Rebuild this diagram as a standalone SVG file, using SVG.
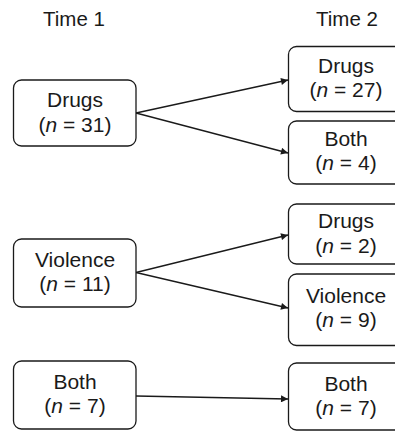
<svg xmlns="http://www.w3.org/2000/svg" width="395" height="432" viewBox="0 0 395 432">
<defs>
<marker id="ah" viewBox="0 0 10 10" refX="10" refY="5" markerWidth="8" markerHeight="7" markerUnits="userSpaceOnUse" orient="auto">
<path d="M0,0 L10,5 L0,10 Z" fill="#1a1a1a"/>
</marker>
</defs>
<style>
.box{fill:#fff;stroke:#1a1a1a;stroke-width:1.3}
.t{font-family:"Liberation Sans",Arial,sans-serif;font-size:21px;fill:#1a1a1a;text-anchor:middle}
.h{font-family:"Liberation Sans",Arial,sans-serif;font-size:20.5px;fill:#1a1a1a;text-anchor:middle}
.c{stroke:#1a1a1a;stroke-width:1.3;fill:none;marker-end:url(#ah)}
</style>
<rect width="395" height="432" fill="#fff"/>
<text class="h" x="74" y="26">Time 1</text>
<text class="h" x="347" y="26">Time 2</text>
<g id="connectors">
<line class="c" x1="136" y1="113" x2="288" y2="80"/>
<line class="c" x1="136" y1="113" x2="288" y2="153"/>
<line class="c" x1="136" y1="272.5" x2="288" y2="235"/>
<line class="c" x1="136" y1="272.5" x2="288" y2="308"/>
<line class="c" x1="136" y1="396" x2="288" y2="399"/>
</g>
<g id="l-drugs">
<rect class="box" x="13.5" y="80" width="122.5" height="66" rx="8"/>
<text class="t" x="75" y="107">Drugs</text>
<text class="t" x="75" y="131.5">(<tspan font-style="italic">n</tspan> = 31)</text>
</g>
<g id="l-violence">
<rect class="box" x="13.5" y="239" width="122.5" height="68" rx="8"/>
<text class="t" x="75" y="266.5">Violence</text>
<text class="t" x="75" y="291">(<tspan font-style="italic">n</tspan> = 11)</text>
</g>
<g id="l-both">
<rect class="box" x="13.5" y="361" width="122.5" height="68" rx="8"/>
<text class="t" x="75" y="389">Both</text>
<text class="t" x="75" y="413">(<tspan font-style="italic">n</tspan> = 7)</text>
</g>
<g id="r-drugs1">
<rect class="box" x="288.5" y="46.5" width="120" height="65" rx="8"/>
<text class="t" x="346" y="72.5">Drugs</text>
<text class="t" x="346" y="96.5">(<tspan font-style="italic">n</tspan> = 27)</text>
</g>
<g id="r-both1">
<rect class="box" x="288.5" y="121" width="120" height="63" rx="8"/>
<text class="t" x="346" y="146">Both</text>
<text class="t" x="346" y="170">(<tspan font-style="italic">n</tspan> = 4)</text>
</g>
<g id="r-drugs2">
<rect class="box" x="288.5" y="204" width="120" height="60" rx="8"/>
<text class="t" x="346" y="228">Drugs</text>
<text class="t" x="346" y="252.5">(<tspan font-style="italic">n</tspan> = 2)</text>
</g>
<g id="r-violence">
<rect class="box" x="288.5" y="274" width="120" height="71.5" rx="8"/>
<text class="t" x="346" y="302.5">Violence</text>
<text class="t" x="346" y="327">(<tspan font-style="italic">n</tspan> = 9)</text>
</g>
<g id="r-both2">
<rect class="box" x="288.5" y="363" width="120" height="67" rx="8"/>
<text class="t" x="346" y="390.5">Both</text>
<text class="t" x="346" y="415">(<tspan font-style="italic">n</tspan> = 7)</text>
</g>
</svg>
